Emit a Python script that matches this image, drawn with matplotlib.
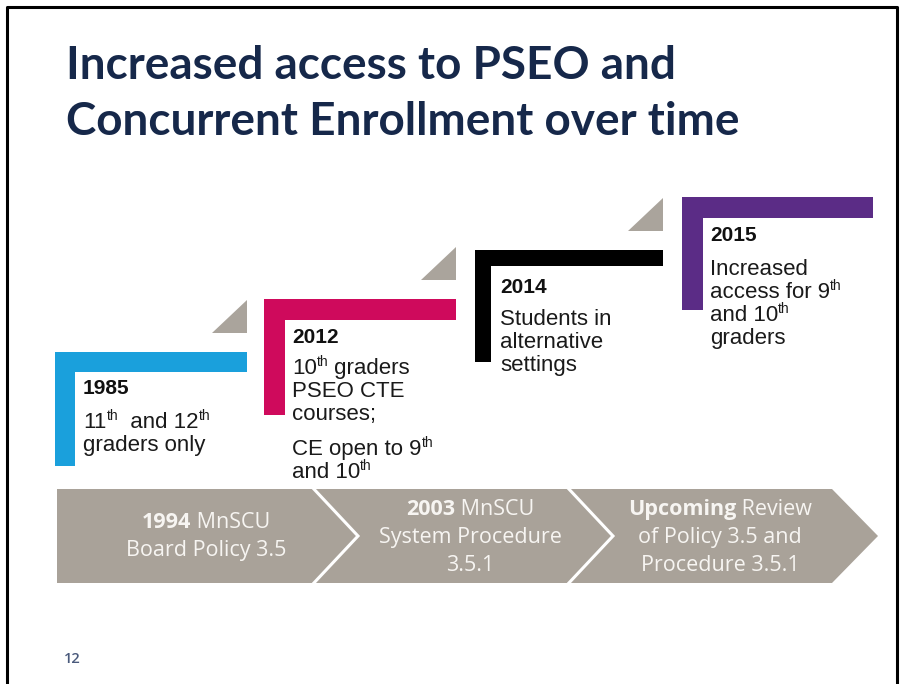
import matplotlib
matplotlib.use("Agg")
import matplotlib.pyplot as plt
from matplotlib.patches import Polygon, Rectangle

# slide content
title_lines = ["Increased access to PSEO and", "Concurrent Enrollment over time"]
years = ["1985", "2012", "2014", "2015"]
colors = ["#1aa0dc", "#cf0a5c", "#000000", "#5b2c86"]
# "^" marks a superscript run up to the next space
descriptions = [
    ["11^th  and 12^th", "graders only"],
    ["10^th graders", "PSEO CTE", "courses;", None, "CE open to 9^th", "and 10^th"],
    ["Students in", "alternative", "settings"],
    ["Increased", "access for 9^th", "and 10^th", "graders"],
]
band_labels = [
    [("1994", " MnSCU"), ("", "Board Policy 3.5")],
    [("2003", " MnSCU"), ("", "System Procedure"), ("", "3.5.1")],
    [("Upcoming", " Review"), ("", "of Policy 3.5 and"), ("", "Procedure 3.5.1")],
]
page_number = "12"

# layout (pixel coords of the slide)
bracket_left = [55, 264, 475, 682]
bracket_top = [352, 299, 250, 197]
bracket_right = [247, 456, 663, 873]
bracket_bottom = [466, 415, 362, 310]
bracket_thick = [20, 21, 16, 21]
has_corner = [True, True, True, False]
text_x = [83, 292, 500, 710]
year_base = [394, 343, 293, 241]
body_base = [428, 374, 325, 275]

fig = plt.figure(figsize=(9.04, 6.84), dpi=100)
ax = fig.add_axes([0, 0, 1, 1])
ax.set_xlim(0, 904)
ax.set_ylim(684, 0)
ax.axis("off")
renderer = fig.canvas.get_renderer()


def text_width(s, **kw):
    t = ax.text(0, 0, s, **kw)
    w = t.get_window_extent(renderer).width
    t.remove()
    return w


def rich_line(x, y, line, size=16, color="#1a1a1a"):
    # split into normal / superscript runs
    runs = []
    buf = ""
    i = 0
    while i < len(line):
        ch = line[i]
        if ch == "^":
            if buf:
                runs.append((buf, False))
            j = i + 1
            while j < len(line) and line[j] != " ":
                j += 1
            runs.append((line[i + 1:j], True))
            buf = ""
            i = j
            continue
        buf += ch
        i += 1
    if buf:
        runs.append((buf, False))
    for s, sup in runs:
        fs = size * 0.62 if sup else size
        yy = y - 8 if sup else y
        kw = dict(fontsize=fs, family="Liberation Sans", color=color)
        ax.text(x, yy, s, va="baseline", ha="left", **kw)
        x += text_width(s, **kw)


# slide border
ax.plot([7, 7, 897, 897], [684, 7, 7, 684], color="black", lw=2.2, solid_capstyle="butt")

# title
for i, line in enumerate(title_lines):
    ax.text(66, 79 + i * 56, line, fontsize=33, fontweight="bold", family="Lato",
            color="#16284a", va="baseline", ha="left")

# brackets
for i in range(len(years)):
    l, t, r, b = bracket_left[i], bracket_top[i], bracket_right[i], bracket_bottom[i]
    th = bracket_thick[i]
    ax.add_patch(Rectangle((l, t), r - l, th, color=colors[i], lw=0))
    ax.add_patch(Rectangle((l, t), th, b - t, color=colors[i], lw=0))
    if has_corner[i]:
        ax.add_patch(Polygon([(r - 35, t - 19), (r, t - 52), (r, t - 19)],
                             closed=True, color="#aaa49c", lw=0))
    ax.text(text_x[i], year_base[i], years[i], fontsize=15, fontweight="bold",
            family="Liberation Sans", color="#111111", va="baseline")
    y = body_base[i]
    for line in descriptions[i]:
        if line is None:
            y += 12
            continue
        rich_line(text_x[i], y, line)
        y += 23

# chevron band
band = Polygon([(57, 489), (832, 489), (878, 536), (832, 583), (57, 583)],
               closed=True, color="#a9a299", lw=0)
ax.add_patch(band)
for x0 in [312, 567]:
    ax.plot([x0, x0 + 46, x0], [487, 536, 585], color="white", lw=2.2,
            solid_joinstyle="miter")

band_centers = [206, 470, 720]
band_first = [528, 515, 515]
band_font = dict(fontsize=15.5, family="Open Sans", color="#f7f5f2")
for cx, y0, lines in zip(band_centers, band_first, band_labels):
    for j, (bold, rest) in enumerate(lines):
        yy = y0 + j * 28
        if bold:
            w1 = text_width(bold, fontweight="bold", **band_font)
            w2 = text_width(rest, **band_font)
            start = cx - (w1 + w2) / 2
            ax.text(start, yy, bold, fontweight="bold", va="baseline", ha="left", **band_font)
            ax.text(start + w1, yy, rest, va="baseline", ha="left", **band_font)
        else:
            ax.text(cx, yy, rest, va="baseline", ha="center", **band_font)

ax.text(64, 663, page_number, fontsize=10.5, family="Open Sans", fontweight="semibold",
        color="#4a5a7c", va="baseline")

fig.savefig("out.png", dpi=100)
